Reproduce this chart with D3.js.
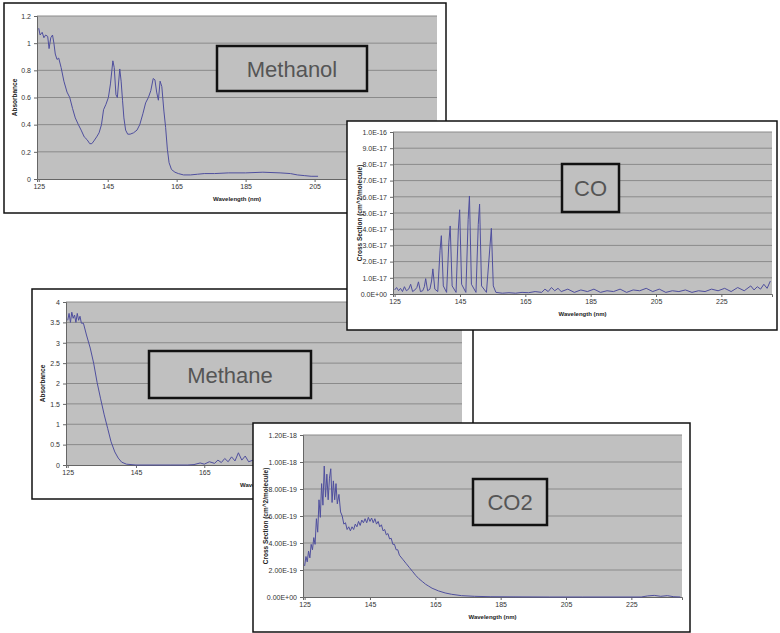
<!DOCTYPE html>
<html>
<head>
<meta charset="utf-8">
<script src="https://cdn.jsdelivr.net/npm/d3@7/dist/d3.min.js"></script>
<style>
body { margin: 0; background: #fff; }
svg { display: block; font-family: Arial, "Liberation Sans", sans-serif; }
</style>
</head>
<body>
<svg id="chart" width="780" height="633"></svg>
<script>
/* spectra: wavelength (nm) and value */
var methanolNm = [125.0,125.4,126.0,126.5,127.0,127.6,128.0,128.5,129.0,129.4,129.8,130.3,130.8,131.5,132.3,133.2,134.0,134.8,135.6,136.5,137.3,138.2,139.0,139.8,140.4,141.0,141.8,142.5,143.2,143.8,144.5,145.2,145.8,146.5,146.9,147.4,147.8,148.5,148.9,149.3,149.7,150.2,150.8,151.5,152.5,153.5,154.3,155.2,156.0,156.8,157.5,158.2,158.7,159.2,159.7,160.2,160.7,161.3,161.8,162.3,162.8,163.5,164.5,165.5,167.0,169.0,171.0,173.0,176.0,180.0,185.0,190.0,195.0,198.0,200.0,202.0,204.0,206.0];
var methanolAbs = [1.11,1.06,1.08,1.04,1.06,1.05,0.96,1.04,1.06,1.0,0.92,0.88,0.89,0.82,0.72,0.64,0.6,0.52,0.45,0.4,0.36,0.31,0.29,0.26,0.26,0.28,0.31,0.34,0.4,0.51,0.55,0.6,0.7,0.87,0.82,0.62,0.6,0.81,0.72,0.58,0.45,0.36,0.33,0.33,0.34,0.36,0.4,0.48,0.56,0.6,0.65,0.74,0.73,0.64,0.58,0.72,0.68,0.5,0.38,0.22,0.12,0.07,0.05,0.04,0.03,0.03,0.035,0.04,0.04,0.045,0.045,0.05,0.045,0.04,0.03,0.025,0.02,0.02];

var coNm = [125.0,125.6,126.2,126.8,127.4,128.0,128.6,129.3,129.9,130.5,131.2,131.8,132.3,132.9,133.6,134.1,134.5,135.1,135.8,136.3,136.7,137.3,138.2,138.9,139.3,139.9,140.9,141.6,142.0,142.6,143.8,144.5,144.9,145.5,146.8,147.5,147.9,148.5,149.9,150.6,151.0,151.6,153.1,154.2,154.6,155.2,156,158,160,162,164,166,168,170,171,172,173,174,175,176,178,180,182,184,186,188,190,192,194,196,198,200,202,204,206,208,210,212,214,216,218,220,222,224,226,228,230,232,234,235,236,237,238,239,240];
var coCross = [0.25,0.4,0.2,0.35,0.15,0.45,0.2,0.3,0.6,0.15,0.25,0.4,0.75,0.15,0.2,0.45,0.95,0.2,0.3,0.8,1.55,0.3,0.15,2.7,3.6,0.5,0.1,3.2,4.2,0.5,0.1,4.0,5.2,0.6,0.1,4.6,6.05,0.6,0.1,4.3,5.55,0.5,0.1,3.0,4.05,0.5,0.1,0.05,0.08,0.05,0.1,0.08,0.15,0.1,0.3,0.15,0.4,0.2,0.35,0.15,0.3,0.1,0.25,0.15,0.3,0.1,0.2,0.15,0.3,0.1,0.25,0.2,0.35,0.15,0.3,0.1,0.2,0.15,0.25,0.1,0.2,0.15,0.3,0.2,0.35,0.15,0.4,0.2,0.5,0.25,0.45,0.3,0.6,0.35,0.8]; // x 1E-17

var methaneNm = [125.0,125.4,125.8,126.2,126.6,127.0,127.4,127.8,128.2,128.6,129.0,129.6,130.5,131.6,132.6,133.6,134.6,135.7,136.7,137.7,138.8,139.8,140.8,142.2,145,150,155,160,162,163.8,165,166.5,168,169,170,171,172,173,174,175,176,177,178,180,181.5,183.5,186,190,195,200,210,220,230,240];
var methaneAbs = [3.55,3.72,3.5,3.75,3.6,3.68,3.5,3.72,3.55,3.65,3.48,3.48,3.19,2.87,2.5,2.03,1.64,1.23,0.9,0.57,0.32,0.17,0.07,0.02,0.0,0.0,0.0,0.0,0.01,0.05,0.02,0.08,0.04,0.12,0.06,0.16,0.08,0.2,0.1,0.3,0.12,0.22,0.08,0.14,0.06,0.12,0.05,0.1,0.06,0.08,0.05,0.07,0.05,0.06];

var co2Nm = [125.0,125.4,125.8,126.2,126.6,127.0,127.4,127.8,128.2,128.6,129.0,129.4,129.8,130.2,130.6,131.0,131.4,131.8,132.2,132.6,133.0,133.4,133.8,134.2,134.6,135.0,135.5,136.0,136.5,137.0,137.5,138.0,138.5,139.0,139.5,140.0,140.5,141.0,141.5,142.0,142.5,143.0,143.5,144.0,144.5,145.0,145.5,146.0,146.5,147.0,147.5,148.0,148.5,149.0,149.5,150.0,150.5,151.0,151.5,152.0,152.5,153.0,153.5,154.0,155.0,156.0,157.0,158.0,159.0,160.0,161.0,162.0,163.0,164.0,166.0,168.0,170.0,173.0,177.0,182.0,190.0,200.0,210.0,220.0,228.0,230.0,232.0,234.0,236.0,238.0,240.0];
var co2Cross = [2.3,3.0,2.6,3.4,2.9,3.9,3.5,4.4,3.9,5.8,4.8,7.2,5.9,8.4,6.8,9.7,7.4,9.1,7.2,8.8,9.5,7.0,8.6,7.2,8.4,6.9,7.6,6.3,6.0,5.4,5.5,5.0,5.2,4.9,5.2,5.0,5.4,5.2,5.6,5.3,5.7,5.5,5.8,5.5,5.9,5.6,5.85,5.5,5.8,5.4,5.6,5.2,5.35,4.9,5.0,4.6,4.7,4.3,4.35,3.9,3.9,3.5,3.5,3.1,2.8,2.5,2.2,1.9,1.6,1.35,1.15,0.95,0.8,0.65,0.45,0.3,0.2,0.1,0.05,0.02,0.01,0.0,0.0,0.0,0.0,0.08,0.12,0.05,0.1,0.02,0.0]; // x 1E-19

/* axis ticks */
var wavelengthTicks = [125, 145, 165, 185, 205, 225];
var methanolTicks = [0, 0.2, 0.4, 0.6, 0.8, 1, 1.2];
var methanolTickLabels = ["0", "0.2", "0.4", "0.6", "0.8", "1", "1.2"];
var coTicks = [0, 1, 2, 3, 4, 5, 6, 7, 8, 9, 10];
var coTickLabels = ["0.0E+00","1.0E-17","2.0E-17","3.0E-17","4.0E-17","5.0E-17","6.0E-17","7.0E-17","8.0E-17","9.0E-17","1.0E-16"];
var methaneTicks = [0, 0.5, 1, 1.5, 2, 2.5, 3, 3.5, 4];
var methaneTickLabels = ["0", "0.5", "1", "1.5", "2", "2.5", "3", "3.5", "4"];
var co2Ticks = [0, 2, 4, 6, 8, 10, 12];
var co2TickLabels = ["0.00E+00","2.00E-19","4.00E-19","6.00E-19","8.00E-19","1.00E-18","1.20E-18"];

var xTitle = "Wavelength (nm)";

/* panel layout, drawn back to front */
var panels = [
	{ name: "Methanol", nm: methanolNm, val: methanolAbs, ticks: methanolTicks, labels: methanolTickLabels,
	  yTitle: "Absorbance", frame: [4, 3, 446, 213], plot: [37, 16, 437, 179], box: [217, 46, 150, 45] },
	{ name: "Methane", nm: methaneNm, val: methaneAbs, ticks: methaneTicks, labels: methaneTickLabels,
	  yTitle: "Absorbance", frame: [32, 289, 473, 499], plot: [66, 302, 462, 465], box: [149, 351, 162, 47] },
	{ name: "CO", nm: coNm, val: coCross, ticks: coTicks, labels: coTickLabels,
	  yTitle: "Cross Section (cm^2/molecule)", frame: [347, 121, 777, 330], plot: [393, 132, 772, 294], box: [562, 164, 57, 48] },
	{ name: "CO2", nm: co2Nm, val: co2Cross, ticks: co2Ticks, labels: co2TickLabels,
	  yTitle: "Cross Section (cm^2/molecule)", frame: [253, 423, 690, 632], plot: [303, 435, 682, 597], box: [473, 479, 74, 46] }
];

var svg = d3.select("#chart");

function drawPanel(p) {
	var g = svg.append("g").attr("class", "panel");
	var L = p.plot[0], T = p.plot[1], R = p.plot[2], B = p.plot[3];

	g.append("rect")
		.attr("x", p.frame[0]).attr("y", p.frame[1])
		.attr("width", p.frame[2] - p.frame[0]).attr("height", p.frame[3] - p.frame[1])
		.attr("fill", "#fff").attr("stroke", "#111").attr("stroke-width", 1.5);

	var x = d3.scaleLinear().domain([124.5, 240.5]).range([L, R]);
	var y = d3.scaleLinear().domain([0, p.ticks[p.ticks.length - 1]]).range([B, T]);

	g.append("rect")
		.attr("x", L).attr("y", T).attr("width", R - L).attr("height", B - T)
		.attr("fill", "#c0c0c0");

	// gridlines
	g.selectAll(".grid").data(p.ticks.slice(1)).enter().append("line")
		.attr("x1", L).attr("x2", R)
		.attr("y1", function(d) { return y(d); }).attr("y2", function(d) { return y(d); })
		.attr("stroke", "#8a8a8a").attr("stroke-width", 1);

	var yAxis = d3.axisLeft(y).tickValues(p.ticks).tickSize(3).tickPadding(3)
		.tickFormat(function(d, i) { return p.labels[i]; });
	var gy = g.append("g").attr("transform", "translate(" + L + ",0)").call(yAxis);

	var xAxis = d3.axisBottom(x).tickValues(wavelengthTicks).tickSize(3).tickPadding(2)
		.tickFormat(d3.format("d"));
	var gx = g.append("g").attr("transform", "translate(0," + B + ")").call(xAxis);

	[gy, gx].forEach(function(a) {
		a.select(".domain").attr("stroke", "#666");
		a.selectAll(".tick line").attr("stroke", "#666");
		a.selectAll(".tick text").attr("fill", "#333").style("font-size", "7px").style("font-family", "Arial, 'Liberation Sans', sans-serif");
	});

	// spectrum
	var line = d3.line()
		.x(function(d, i) { return x(p.nm[i]); })
		.y(function(d) { return y(d); });
	g.append("path")
		.datum(p.val)
		.attr("d", line)
		.attr("fill", "none")
		.attr("stroke", "#4f4f9e")
		.attr("stroke-width", 1);

	// axis titles
	g.append("text")
		.attr("x", (L + R) / 2).attr("y", B + 22)
		.attr("text-anchor", "middle")
		.style("font-size", "6px").style("font-weight", "bold").attr("fill", "#222")
		.text(xTitle);

	g.append("text")
		.attr("transform", "translate(" + (p.frame[0] + (p.name.indexOf("CO") == 0 ? 15 : 13)) + "," + ((T + B) / 2) + ") rotate(-90)")
		.attr("text-anchor", "middle")
		.style("font-size", "6.5px").style("font-weight", "bold").attr("fill", "#222")
		.text(p.yTitle);

	// name box
	g.append("rect")
		.attr("x", p.box[0]).attr("y", p.box[1]).attr("width", p.box[2]).attr("height", p.box[3])
		.attr("fill", "#c0c0c0").attr("stroke", "#111").attr("stroke-width", 2.5);
	g.append("text")
		.attr("x", p.box[0] + p.box[2] / 2).attr("y", p.box[1] + p.box[3] / 2 + 8)
		.attr("text-anchor", "middle")
		.style("font-size", "22px").attr("fill", "#555")
		.text(p.name);
}

panels.forEach(drawPanel);
</script>
</body>
</html>
